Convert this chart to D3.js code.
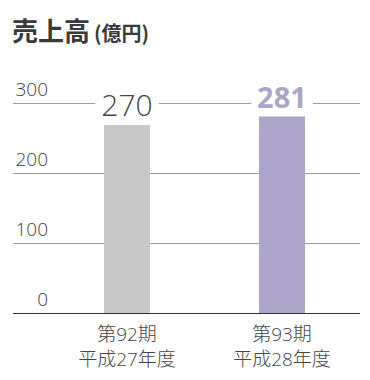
<!DOCTYPE html>
<html><head><meta charset="utf-8">
<script src="https://cdn.jsdelivr.net/npm/d3@7"></script>
<style>
body{margin:0;background:#fff;}
svg{display:block;}
</style></head>
<body><svg id="c" width="370" height="380"></svg>
<script>
const categories = ["第92期\n平成27年度", "第93期\n平成28年度"];
const values = [270, 281];
const tickValues = [0, 100, 200, 300];
const barColors = ["#c8c8c8", "#aca5c9"];
const labelColors = ["#444444", "#aca5c9"];
const labelWeights = [300, 700];

const svg = d3.select("#c");
const font = "'Open Sans','Noto Sans CJK JP',sans-serif";

const y = d3.scaleLinear().domain([0, 300]).range([313, 103]);
const x = d3.scaleBand().domain(categories).range([26.5, 382.5]).paddingInner(0.703).paddingOuter(0.5);

// title
const t = svg.append("text").attr("x", 12).attr("y", 41).attr("fill", "#3a3a3a")
  .attr("font-family", "'Noto Sans CJK JP',sans-serif").attr("font-weight", 700);
t.append("tspan").attr("font-size", 26).text("売上高");
t.append("tspan").attr("font-size", 20).attr("dx", 4).text("(億円)");

// gridlines
svg.append("g").selectAll("line").data(tickValues.filter(d => d > 0)).join("line")
  .attr("x1", 13).attr("x2", 360).attr("y1", d => y(d) + 0.5).attr("y2", d => y(d) + 0.5)
  .attr("stroke", "#9a9a9a").attr("stroke-width", 1);

// tick labels
svg.append("g").selectAll("text").data(tickValues).join("text")
  .attr("x", 48).attr("y", d => y(d) - 7).attr("text-anchor", "end")
  .attr("font-family", font).attr("font-size", 19).attr("font-weight", 300)
  .attr("fill", "#3d3d3d").text(d => d);

// bars
svg.append("g").selectAll("rect").data(values).join("rect")
  .attr("x", (d, i) => x(categories[i])).attr("width", x.bandwidth())
  .attr("y", d => y(d)).attr("height", d => y(0) - y(d))
  .attr("fill", (d, i) => barColors[i]);

// baseline
svg.append("line").attr("x1", 13).attr("x2", 360).attr("y1", y(0) + 0.5).attr("y2", y(0) + 0.5)
  .attr("stroke", "#333").attr("stroke-width", 1.2);

// value labels with white background
const vl = svg.append("g").selectAll("g").data(values).join("g")
  .attr("transform", (d, i) => `translate(${x(categories[i]) + x.bandwidth() / 2},${y(d) - 8})`);
vl.append("text")
  .attr("text-anchor", "middle")
  .attr("font-family", font).attr("font-size", (d, i) => i === 0 ? 30 : 29)
  .attr("font-weight", (d, i) => labelWeights[i])
  .attr("fill", (d, i) => labelColors[i]).text(d => d)
  .each(function () {
    const b = this.getBBox();
    d3.select(this.parentNode).insert("rect", "text")
      .attr("x", b.x - 6).attr("y", b.y).attr("width", b.width + 12).attr("height", b.height)
      .attr("fill", "#fff");
  });

// category labels
const cl = svg.append("g").selectAll("text").data(categories).join("text")
  .attr("x", d => x(d) + x.bandwidth() / 2).attr("text-anchor", "middle")
  .attr("font-family", font).attr("font-size", 19).attr("font-weight", 300).attr("fill", "#444");
cl.each(function (d) {
  d.split("\n").forEach((line, k) => {
    d3.select(this).append("tspan").attr("x", x(d) + x.bandwidth() / 2)
      .attr("y", 341 + k * 25).text(line);
  });
});
</script></body></html>
